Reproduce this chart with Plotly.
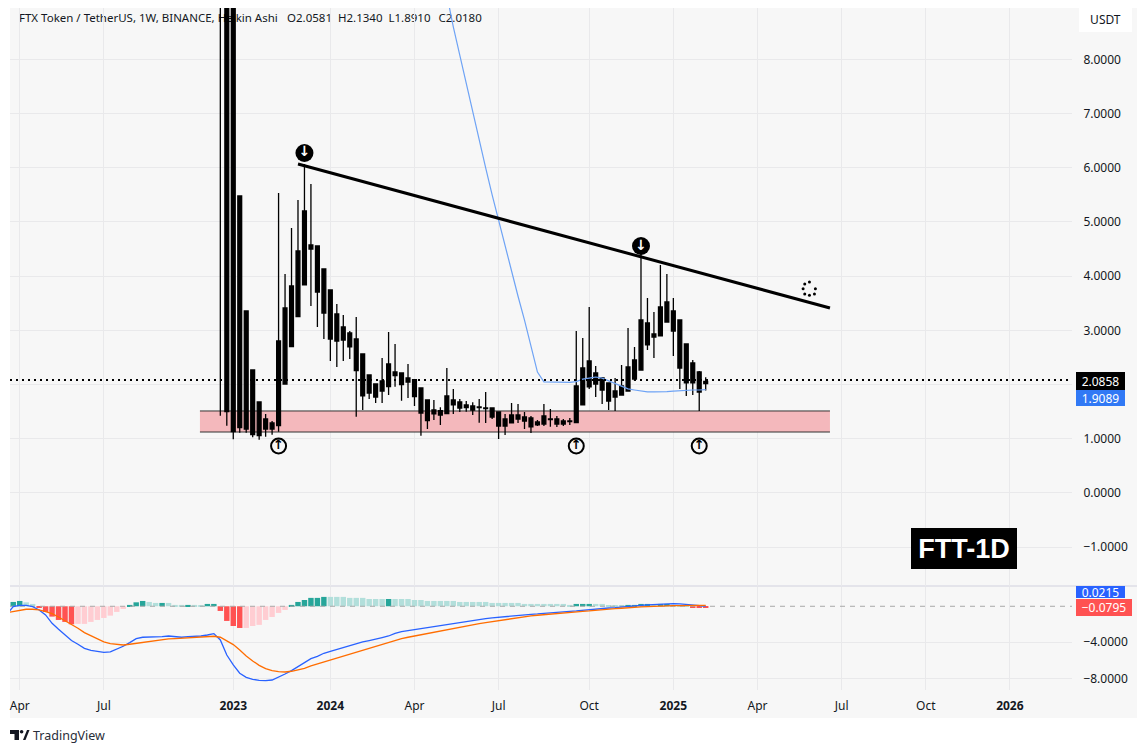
import plotly.graph_objects as go
from plotly.subplots import make_subplots

W, H = 1147, 753
TEXT = "#131722"
GRID = "#e9e9eb"
FONT = "Noto Sans"

# Heikin Ashi weekly candles, one row per bar starting at bar -2 (bar 0 = 2023)
candle_start = -2
body_top = [
    13, 16, 12, 5.48, 3.358, 2.269, 1.679, 1.365, 1.292, 2.804,
    3.413, 3.819, 4.465, 5.203, 4.576, 4.557, 4.133, 3.745, 3.303, 3.063,
    2.952, 2.841, 2.565, 2.177, 2.011, 2.066, 2.38, 2.232, 2.214, 2.122,
    2.09, 1.937, 1.716, 1.531, 1.518, 1.79, 1.716, 1.679, 1.624, 1.605,
    1.587, 1.568, 1.568, 1.494, 1.365, 1.439, 1.439, 1.402, 1.384, 1.31,
    1.421, 1.365, 1.365, 1.328, 1.328, 1.974, 2.306, 2.435, 2.214, 2.122,
    2.03, 1.882, 1.974, 2.325, 2.454, 3.192, 3.137, 2.934, 3.432, 3.524,
    3.358, 3.192, 2.749, 2.399, 2.232, 2.0581,
]
body_bottom = [
    10, 1.5, 1.131, 1.205, 1.181, 1.076, 1.057, 1.181, 1.181, 1.242,
    2.011, 2.699, 3.253, 3.838, 4.502, 3.708, 3.321, 2.841, 2.804, 2.823,
    2.694, 2.256, 1.79, 1.845, 1.771, 1.882, 1.961, 2.164, 1.998, 2.048,
    1.777, 1.476, 1.334, 1.458, 1.439, 1.463, 1.624, 1.568, 1.574, 1.531,
    1.574, 1.555, 1.402, 1.236, 1.236, 1.292, 1.365, 1.328, 1.218, 1.255,
    1.273, 1.352, 1.273, 1.273, 1.315, 1.297, 1.624, 1.956, 2.011, 1.9,
    1.697, 1.771, 1.808, 1.882, 2.103, 2.269, 2.731, 2.878, 2.897, 3.155,
    2.989, 2.306, 2.03, 2.03, 1.863, 2.018,
]
wick_high = [
    18, 22, 16, 5.48, 3.358, 2.269, 1.679, 1.458, 1.328, 5.535,
    4.041, 4.889, 5.406, 6.07, 5.701, 4.557, 4.133, 3.745, 3.487, 3.284,
    2.989, 3.247, 2.565, 2.177, 2.011, 2.491, 2.97, 2.749, 2.214, 2.38,
    2.09, 1.937, 1.716, 1.716, 1.581, 2.306, 1.919, 1.734, 1.697, 1.673,
    1.734, 1.863, 1.568, 1.494, 1.458, 1.661, 1.642, 1.494, 1.421, 1.347,
    1.642, 1.55, 1.421, 1.365, 1.384, 2.989, 2.86, 3.432, 2.343, 2.14,
    2.03, 2.122, 2.362, 3.044, 2.694, 4.428, 3.598, 3.339, 4.207, 4.041,
    3.598, 3.192, 2.749, 2.454, 2.251, 2.134,
]
wick_low = [
    1.426, 1.24, 0.99, 1.113, 1.113, 1.028, 0.983, 1.039, 1.076, 1.131,
    2.011, 2.699, 3.253, 3.838, 3.45, 3.063, 2.841, 2.435, 2.325, 2.435,
    2.472, 1.408, 1.531, 1.734, 1.661, 1.661, 1.808, 1.961, 1.703, 1.753,
    1.605, 1.057, 1.181, 1.347, 1.255, 1.463, 1.458, 1.494, 1.5, 1.439,
    1.297, 1.292, 1.365, 0.996, 1.07, 1.292, 1.292, 1.181, 1.107, 1.236,
    1.236, 1.223, 1.218, 1.236, 1.255, 1.297, 1.624, 1.919, 1.771, 1.642,
    1.531, 1.513, 1.808, 1.882, 2.066, 2.269, 2.638, 2.491, 2.897, 3.155,
    2.528, 1.919, 1.79, 1.808, 1.513, 1.891,
]

# moving average, starts at bar 33
ma_start = 33
ma_values = [
    9.19, 8.6, 8.08, 7.55, 7.03, 6.51, 6.0, 5.5, 5.02, 4.56,
    4.1, 3.63, 3.19, 2.69, 2.23, 2.05, 2.05, 2.05, 2.045, 2.04,
    2.055, 2.1, 2.12, 2.14, 2.12, 2.07, 2.03, 1.97, 1.92, 1.9,
    1.88, 1.865, 1.865, 1.865, 1.87, 1.88, 1.89, 1.9, 1.9, 1.9, 1.9089,
]

# MACD panel
hist_start = -34
hist_values = [
    0.48, 0.59, 0.44, 0.26, -0.18, -0.63, -1.15, -1.52, -1.74, -2.0,
    -1.96, -1.96, -1.74, -1.52, -1.3, -1.04, -0.63, -0.3, 0.15, 0.44,
    0.59, 0.48, 0.37, 0.37, 0.37, 0.15, 0.15, 0.15, 0.15, 0.11, 0.26, 0.26,
    -0.52, -1.63, -2.19, -2.41, -2.41, -2.19, -2.07, -1.52, -1.19, -0.74,
    -0.41, 0.15, 0.48, 0.7, 0.93, 0.93, 1.04, 1.04, 1.04, 1.04,
    0.93, 0.93, 0.93, 0.81, 0.81, 0.81, 0.81, 0.81, 0.81, 0.81,
    0.7, 0.7, 0.59, 0.59, 0.59, 0.59, 0.59, 0.48, 0.48, 0.48,
    0.48, 0.48, 0.37, 0.37, 0.37, 0.37, 0.37, 0.26, 0.26, 0.26,
    0.26, 0.26, 0.26, 0.26, 0.15, 0.26, 0.26, 0.26, 0.26, 0.26,
    0.11, 0.11, 0.11, 0.15, 0.15, 0.26, 0.26, 0.18, 0.26, 0.26,
    0.15, 0.07, 0.03, -0.18, -0.18, -0.18,
]
hist_codes = (
    "DDLLRRRRRR" "PPPPPPPP" "DDDLLDLLLDLLDD"
    "RRRR" "PPPPPPP" "DDDDDD" "LLLLLLLLL" "D" "L"
    "LLLLLLLLLLLLLLLLLLLLLLLLLLL"
    "DDD" "LLLLL" "DDDD" "L" "DD" "LLL" "RRR"
)
hist_palette = {"D": "#26a69a", "L": "#b2dfdb", "R": "#ff5252", "P": "#ffcdd2"}

macd_start = -35
macd_line = [
    -0.9, -0.04, 0.11, 0.11, -0.04, -0.41, -0.96, -1.89, -2.56, -3.19, -3.81,
    -4.22, -4.67, -4.89, -5.04, -5.11, -5.07, -4.78, -4.44, -4.04, -3.59,
    -3.44, -3.44, -3.37, -3.37, -3.3, -3.41, -3.44, -3.37, -3.37, -3.3,
    -3.19, -3.04, -3.74, -5.41, -6.52, -7.44, -7.89, -8.11, -8.22, -8.26,
    -8.19, -7.89, -7.52, -7.15, -6.7, -6.26, -5.81, -5.56, -5.22, -5.0,
    -4.78, -4.56, -4.33, -4.11, -3.96, -3.81, -3.67, -3.48, -3.3, -3.0,
    -2.81, -2.7, -2.56, -2.41, -2.3, -2.19, -2.07, -2.0, -1.89, -1.78,
    -1.67, -1.56, -1.44, -1.37, -1.3, -1.22, -1.15, -1.07, -1.0, -0.96,
    -0.89, -0.85, -0.78, -0.74, -0.67, -0.59, -0.56, -0.52, -0.44, -0.37,
    -0.33, -0.26, -0.19, -0.15, -0.07, 0.0, 0.04, 0.11, 0.15, 0.19,
    0.22, 0.26, 0.3, 0.26, 0.22, 0.15, 0.11, 0.0215,
]
signal_line = [
    -0.72, -0.59, -0.44, -0.33, -0.33, -0.41, -0.59, -0.81, -1.19, -1.59, -1.96,
    -2.44, -2.93, -3.3, -3.67, -3.96, -4.15, -4.26, -4.3, -4.22, -4.11,
    -4.0, -3.89, -3.81, -3.7, -3.63, -3.59, -3.56, -3.52, -3.48, -3.44,
    -3.41, -3.33, -3.44, -3.81, -4.26, -4.85, -5.52, -6.07, -6.56, -6.93,
    -7.15, -7.26, -7.3, -7.22, -7.07, -6.89, -6.63, -6.41, -6.19, -5.96,
    -5.74, -5.52, -5.3, -5.07, -4.85, -4.67, -4.44, -4.26, -4.04, -3.81,
    -3.59, -3.44, -3.3, -3.15, -3.0, -2.85, -2.7, -2.59, -2.48, -2.33,
    -2.22, -2.07, -1.93, -1.81, -1.7, -1.56, -1.44, -1.33, -1.22, -1.15,
    -1.07, -1.0, -0.93, -0.85, -0.78, -0.74, -0.67, -0.63, -0.56, -0.52,
    -0.44, -0.37, -0.3, -0.26, -0.22, -0.15, -0.11, -0.07, -0.04, 0.0,
    0.04, 0.04, 0.07, 0.07, 0.11, 0.11, 0.11, 0.101,
]

# drawings on the chart, in bar / price units
trend_bars = [10, 92.2]
trend_prices = [6.07, 3.413]
zone_bars = [-5.15, 92.2]
zone_top, zone_bottom = 1.513, 1.125
down_bars = [11, 63]
down_prices = [6.273, 4.557]
up_bars = [7, 53, 72]
up_prices = [0.867, 0.867, 0.867]
spinner_bars = [89.03, 89.95, 89.8, 89.03, 88.3, 88.05, 88.3]
spinner_prices = [3.893, 3.769, 3.672, 3.648, 3.672, 3.769, 3.856]
last_price = 2.0858

# axes
time_ticks = [-33, -20, 0, 15, 28, 41, 55, 68, 81, 94, 107, 120]
time_labels = ["Apr", "Jul", "<b>2023</b>", "<b>2024</b>", "Apr", "Jul", "Oct", "<b>2025</b>", "Apr", "Jul", "Oct", "<b>2026</b>"]
price_ticks = [-1, 0, 1, 2, 3, 4, 5, 6, 7, 8]
price_labels = ["−1.0000", "0.0000", "1.0000", "", "3.0000", "4.0000", "5.0000", "6.0000", "7.0000", "8.0000"]
macd_ticks = [-8, -4]
macd_labels = ["−8.0000", "−4.0000"]
bar_range = [-34.5, 129.6]
price_range = [-1.716, 8.948]
macd_range = [-9.3, 2.14]


def px(x):
    return x / W


def py(y):
    return 1 - y / H


fig = make_subplots(rows=2, cols=1, shared_xaxes=False)

candle_x = list(range(candle_start, candle_start + len(body_top)))
fig.add_trace(go.Candlestick(
    x=candle_x, open=body_bottom, close=body_top, high=wick_high, low=wick_low,
    increasing=dict(line=dict(color="#000000", width=1.3), fillcolor="#000000"),
    decreasing=dict(line=dict(color="#000000", width=1.3), fillcolor="#000000"),
    whiskerwidth=0, hoverinfo="skip",
), row=1, col=1)

fig.add_trace(go.Scatter(
    x=list(range(ma_start, ma_start + len(ma_values))), y=ma_values, mode="lines",
    line=dict(color="#6ea3f5", width=1.2),
), row=1, col=1)

fig.add_trace(go.Scatter(
    x=bar_range, y=[last_price, last_price], mode="lines",
    line=dict(color="#000000", width=2, dash="2px,4px"),
), row=1, col=1)

fig.add_trace(go.Scatter(
    x=trend_bars, y=trend_prices, mode="lines",
    line=dict(color="#000000", width=3),
), row=1, col=1)

fig.add_trace(go.Scatter(
    x=down_bars, y=down_prices, mode="markers+text", text=["↓", "↓"],
    textposition="middle center",
    textfont=dict(family="DejaVu Sans", size=14, color="#ffffff", weight="bold"),
    marker=dict(size=18, color="#000000"),
), row=1, col=1)

fig.add_trace(go.Scatter(
    x=up_bars, y=up_prices, mode="markers+text", text=["↑", "↑", "↑"],
    textposition="middle center",
    textfont=dict(family="DejaVu Sans", size=13, color="#000000", weight="bold"),
    marker=dict(size=15, color="#f7f7f7", line=dict(color="#000000", width=2)),
), row=1, col=1)

fig.add_trace(go.Scatter(
    x=spinner_bars, y=spinner_prices, mode="markers",
    marker=dict(size=3, color="#000000"),
), row=1, col=1)

fig.add_trace(go.Bar(
    x=list(range(hist_start, hist_start + len(hist_values))), y=hist_values,
    marker=dict(color=[hist_palette[c] for c in hist_codes], line=dict(width=0)),
), row=2, col=1)

fig.add_trace(go.Scatter(
    x=bar_range, y=[0, 0], mode="lines",
    line=dict(color="#a8a8a8", width=1, dash="5px,5px"),
), row=2, col=1)

macd_x = list(range(macd_start, macd_start + len(macd_line)))
fig.add_trace(go.Scatter(x=macd_x, y=macd_line, mode="lines", line=dict(color="#2962ff", width=1.3)), row=2, col=1)
fig.add_trace(go.Scatter(x=macd_x, y=signal_line, mode="lines", line=dict(color="#ff6d00", width=1.3)), row=2, col=1)

# support zone with its two edges
fig.add_shape(type="rect", xref="x", yref="y", x0=zone_bars[0], x1=zone_bars[1], y0=zone_bottom, y1=zone_top,
              fillcolor="#f4b8bc", line_width=0, layer="between")
for edge in (zone_top, zone_bottom):
    fig.add_shape(type="line", xref="x", yref="y", x0=zone_bars[0], x1=zone_bars[1], y0=edge, y1=edge,
                  line=dict(color="#333333", width=1), layer="between")

# chart background and panel divider
fig.add_shape(type="rect", xref="paper", yref="paper", x0=px(10), x1=px(1137), y0=py(718), y1=py(8),
              fillcolor="#f7f7f7", line_width=0, layer="below")
fig.add_shape(type="line", xref="paper", yref="paper", x0=px(10), x1=px(1137), y0=py(586), y1=py(586),
              line=dict(color="#d1d1de", width=1), layer="below")


def top_text(text, x0, x1, size=11.5):
    # shape label, so the candles stay on top of it like in the original
    fig.add_shape(type="rect", xref="paper", yref="paper", x0=px(x0), x1=px(x1), y0=py(26), y1=py(9),
                  fillcolor="rgba(0,0,0,0)", line_width=0, layer="below",
                  label=dict(text=text, textposition="middle left", padding=0,
                             font=dict(family=FONT, size=size, color=TEXT)))


top_text("FTX Token / TetherUS, 1W, BINANCE, Heikin Ashi", 16, 282)
top_text("O2.0581", 284, 335)
top_text("H2.1340", 335, 386)
top_text("L1.8910", 385.5, 436)
top_text("C2.0180", 435.5, 486)

# TradingView logo
logo_points = [(10, 730), (19, 730), (19, 740), (14.5, 740), (14.5, 734), (10, 734)]
logo_slant = [(23, 740), (27, 730), (29.5, 730), (25.5, 740)]
for points in (logo_points, logo_slant):
    path = "M " + " L ".join(f"{px(a):.5f} {py(b):.5f}" for a, b in points) + " Z"
    fig.add_shape(type="path", xref="paper", yref="paper", path=path, fillcolor="#131722", line_width=0)
fig.add_shape(type="circle", xref="paper", yref="paper", x0=px(19.8), x1=px(23.4), y0=py(733.6), y1=py(730),
              fillcolor="#131722", line_width=0)

annotations = [
    dict(text="TradingView", x=px(33), y=py(735), size=12.5, color="#2a2e39", bg=None, w=None, h=None, family=FONT),
    dict(text="2.0858", x=px(1076), y=py(381), size=12, color="#ffffff", bg="#000000", w=49, h=18, family=FONT),
    dict(text="1.9089", x=px(1076), y=py(398), size=12, color="#ffffff", bg="#3179f5", w=49, h=16, family=FONT),
    dict(text="0.0215", x=px(1076), y=py(592), size=12, color="#ffffff", bg="#2962ff", w=49, h=12, family=FONT),
    dict(text="−0.0795", x=px(1076), y=py(607.5), size=12, color="#ffffff", bg="#ff5252", w=56, h=17, family=FONT),
    dict(text="USDT", x=px(1079), y=py(19.5), size=12, color=TEXT, bg="#ffffff", w=53, h=25, family=FONT),
    dict(text="<b>FTT-1D</b>", x=px(911), y=py(548.5), size=27, color="#ffffff", bg="#000000", w=106, h=41,
         family="Liberation Sans"),
]
for a in annotations:
    fig.add_annotation(
        text=a["text"], xref="paper", yref="paper", x=a["x"], y=a["y"], xanchor="left", yanchor="middle",
        showarrow=False, font=dict(family=a["family"], size=a["size"], color=a["color"]),
        bgcolor=a["bg"], width=a["w"], height=a["h"], borderpad=0, borderwidth=0, align="center",
    )

axis_common = dict(showline=False, zeroline=False, gridcolor=GRID, gridwidth=1, fixedrange=True)
fig.update_layout(
    width=W, height=H, margin=dict(l=0, r=0, t=0, b=0), autosize=False,
    paper_bgcolor="#ffffff", plot_bgcolor="rgba(0,0,0,0)", showlegend=False, bargap=0.16, boxgap=0.15,
    font=dict(family=FONT, size=12, color=TEXT),
    xaxis=dict(domain=[px(10), px(1072)], range=bar_range, tickmode="array", tickvals=time_ticks,
               showticklabels=False, rangeslider=dict(visible=False), **axis_common),
    xaxis2=dict(domain=[px(10), px(1072)], range=bar_range, tickmode="array", tickvals=time_ticks,
                ticktext=time_labels, ticks="outside", ticklen=5, tickcolor="rgba(0,0,0,0)", **axis_common),
    yaxis=dict(domain=[py(586), py(8)], range=price_range, side="right", tickmode="array", tickvals=price_ticks,
               ticktext=price_labels, ticks="outside", ticklen=8, tickcolor="rgba(0,0,0,0)", **axis_common),
    yaxis2=dict(domain=[py(690), py(587)], range=macd_range, side="right", tickmode="array", tickvals=macd_ticks,
                ticktext=macd_labels, ticks="outside", ticklen=8, tickcolor="rgba(0,0,0,0)", **axis_common),
)

fig.write_html("out.html", config={"displayModeBar": False}, post_script="document.body.style.margin='0';")
